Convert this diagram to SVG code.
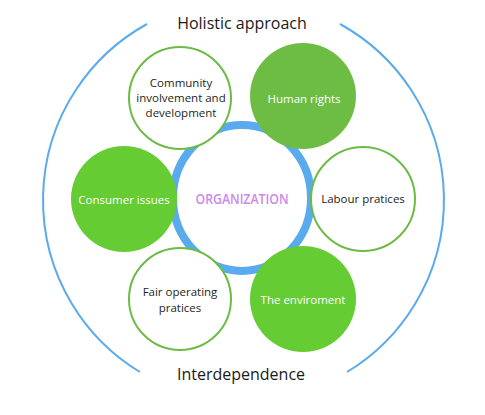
<svg xmlns="http://www.w3.org/2000/svg" width="485" height="415" viewBox="0 0 485 415">
<style>
.t{font-family:"Open Sans","Noto Sans",sans-serif;text-anchor:middle}
.big{font-size:16px;fill:#1a1a1a}
.s{font-size:11.5px}
.dk{fill:#231f20}
.wh{fill:#ffffff}
.ol{fill:#ffffff;stroke:#6dbb45;stroke-width:2}
.blue{fill:none;stroke:#5aaaee}
</style>
<rect width="485" height="415" fill="#ffffff"/>
<g id="connectors">
<path class="blue" stroke-width="2" d="M147,24 A201,201 0 0 0 140,372"/>
<path class="blue" stroke-width="2" d="M340,24 A201,201 0 0 1 347,372"/>
<ellipse class="blue" stroke-width="8" cx="242" cy="198" rx="69" ry="73"/>
</g>
<g id="organization">
<text class="t" x="242" y="204" font-size="15" font-weight="600" fill="#cc88ee" textLength="93" lengthAdjust="spacingAndGlyphs">ORGANIZATION</text>
</g>
<g id="holistic"><text class="t big" x="242" y="29">Holistic approach</text></g>
<g id="interdependence"><text class="t big" x="241" y="380">Interdependence</text></g>
<g id="community">
<circle class="ol" cx="180" cy="98" r="51"/>
<text class="t s dk" x="181" y="87">Community</text>
<text class="t s dk" x="181" y="102">involvement and</text>
<text class="t s dk" x="181" y="117">development</text>
</g>
<g id="human-rights">
<circle cx="303" cy="96" r="53" fill="#6dbd45"/>
<text class="t s wh" x="304" y="103">Human rights</text>
</g>
<g id="consumer">
<circle cx="124" cy="199" r="53" fill="#66cc33"/>
<text class="t s wh" x="124" y="204">Consumer issues</text>
</g>
<g id="labour">
<circle class="ol" cx="363" cy="199" r="52"/>
<text class="t s dk" x="363" y="203">Labour pratices</text>
</g>
<g id="fair">
<circle class="ol" cx="180" cy="299" r="51"/>
<text class="t s dk" x="180" y="296">Fair operating</text>
<text class="t s dk" x="180" y="312">pratices</text>
</g>
<g id="environment">
<circle cx="303" cy="299" r="53" fill="#66cc33"/>
<text class="t s wh" x="303" y="304">The enviroment</text>
</g>
</svg>
